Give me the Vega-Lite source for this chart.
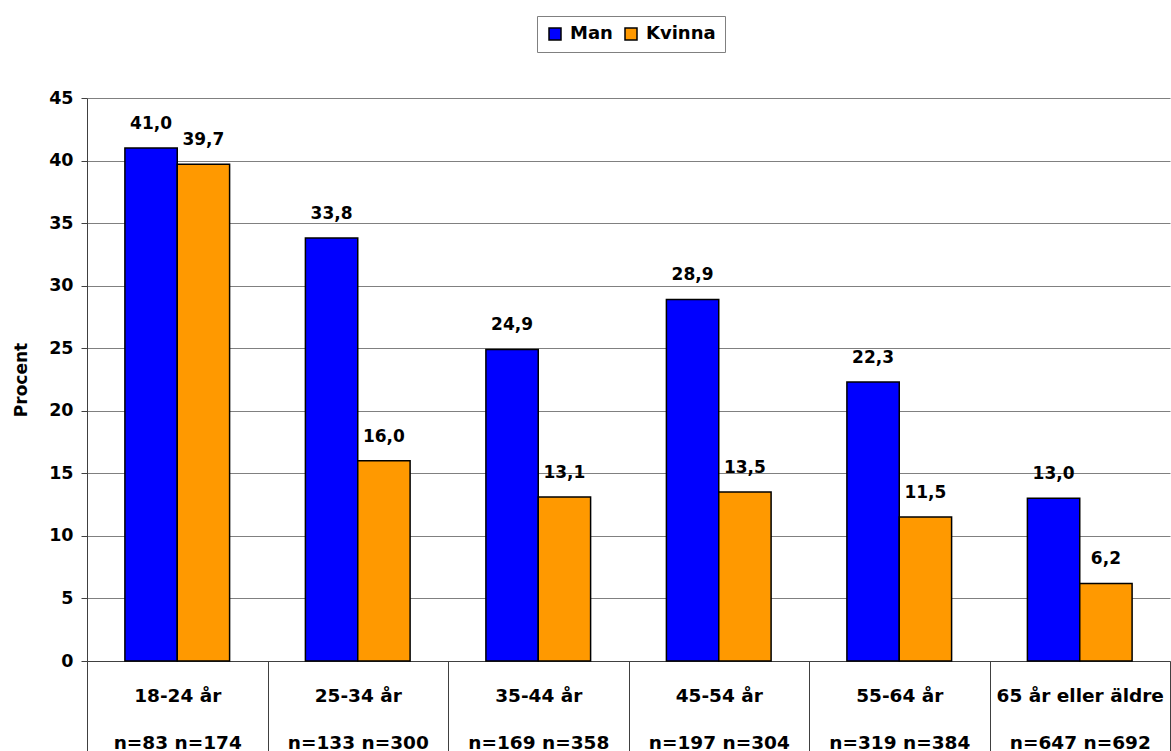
{
  "$schema": "https://vega.github.io/schema/vega-lite/v6.json",
  "width": 1083,
  "height": 563,
  "autosize": {"type": "none"},
  "padding": {"left": 87, "top": 98, "right": 1, "bottom": 90},
  "background": "white",
  "config": {
    "view": {"stroke": null},
    "font": "DejaVu Sans",
    "locale": {"number": {"decimal": ",", "thousands": " ", "grouping": [3], "currency": ["", " kr"]}}
  },
  "data": {
    "values": [
      {"grupp": "18-24 år|n=83 n=174", "kon": "Man", "procent": 41.0},
      {"grupp": "18-24 år|n=83 n=174", "kon": "Kvinna", "procent": 39.7},
      {"grupp": "25-34 år|n=133 n=300", "kon": "Man", "procent": 33.8},
      {"grupp": "25-34 år|n=133 n=300", "kon": "Kvinna", "procent": 16.0},
      {"grupp": "35-44 år|n=169 n=358", "kon": "Man", "procent": 24.9},
      {"grupp": "35-44 år|n=169 n=358", "kon": "Kvinna", "procent": 13.1},
      {"grupp": "45-54 år|n=197 n=304", "kon": "Man", "procent": 28.9},
      {"grupp": "45-54 år|n=197 n=304", "kon": "Kvinna", "procent": 13.5},
      {"grupp": "55-64 år|n=319 n=384", "kon": "Man", "procent": 22.3},
      {"grupp": "55-64 år|n=319 n=384", "kon": "Kvinna", "procent": 11.5},
      {"grupp": "65 år eller äldre|n=647 n=692", "kon": "Man", "procent": 13.0},
      {"grupp": "65 år eller äldre|n=647 n=692", "kon": "Kvinna", "procent": 6.2}
    ]
  },
  "encoding": {
    "x": {
      "field": "grupp",
      "type": "nominal",
      "sort": null,
      "scale": {"paddingInner": 0, "paddingOuter": 0},
      "axis": {
        "title": null,
        "labelExpr": "isString(datum.value) ? split(datum.value, '|') : ''",
        "labelAngle": 0,
        "tickBand": "extent",
        "tickSize": 90,
        "tickColor": "#404040",
        "domainColor": "#404040",
        "labelPadding": -50,
        "labelLineHeight": 47,
        "labelFontSize": 18.5,
        "labelFontWeight": "bold",
        "labelColor": "black",
        "labelBaseline": "alphabetic",
        "labelLimit": 400,
        "labelOverlap": false,
        "labelFlush": false
      }
    },
    "xOffset": {
      "field": "kon",
      "type": "nominal",
      "sort": ["Man", "Kvinna"],
      "scale": {"paddingInner": 0, "paddingOuter": 0.724}
    },
    "y": {
      "field": "procent",
      "type": "quantitative",
      "scale": {"domain": [0, 45], "nice": false},
      "axis": {
        "title": "Procent",
        "titleFontSize": 17,
        "titleFontWeight": "bold",
        "titleColor": "black",
        "titlePadding": 18,
        "values": [0, 5, 10, 15, 20, 25, 30, 35, 40, 45],
        "labelFontSize": 17.5,
        "labelFontWeight": "bold",
        "labelColor": "black",
        "grid": true,
        "gridColor": "#808080",
        "tickSize": 6,
        "tickColor": "#404040",
        "domainColor": "#404040",
        "labelPadding": 8
      }
    }
  },
  "layer": [
    {
      "mark": {"type": "bar", "stroke": "black", "strokeWidth": 1.5},
      "encoding": {
        "color": {
          "field": "kon",
          "type": "nominal",
          "scale": {"domain": ["Man", "Kvinna"], "range": ["#0000FF", "#FF9900"]},
          "legend": {
            "orient": "none",
            "legendX": 450,
            "legendY": -82,
            "direction": "horizontal",
            "title": null,
            "strokeColor": "#808080",
            "padding": 9,
            "labelFontSize": 18,
            "labelFontWeight": "bold",
            "labelColor": "black",
            "symbolType": "square",
            "symbolSize": 144,
            "symbolStrokeColor": "black",
            "symbolStrokeWidth": 1.5,
            "columnPadding": 9,
            "labelOffset": 6
          }
        }
      }
    },
    {
      "mark": {"type": "text", "fontWeight": "bold", "fontSize": 17, "dy": -19, "baseline": "alphabetic", "color": "black"},
      "encoding": {
        "text": {"field": "procent", "type": "quantitative", "format": ".1f"}
      }
    }
  ]
}
